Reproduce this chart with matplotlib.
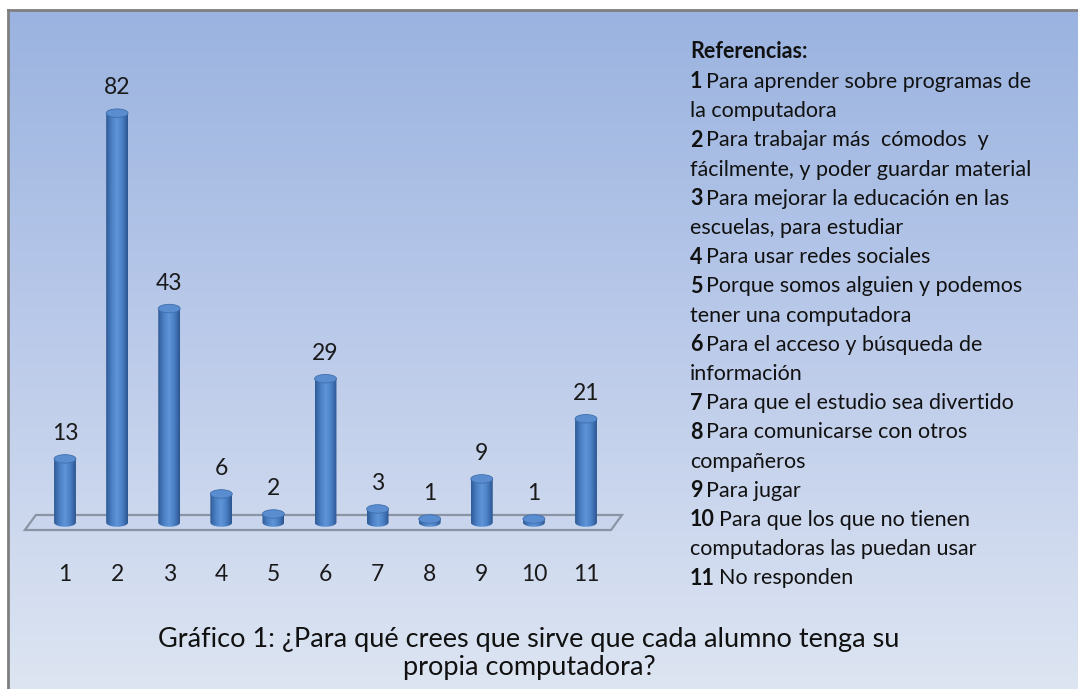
"""
Gráfico de barras cilíndricas: ¿Para qué sirve que cada alumno tenga su propia computadora?
"""

import matplotlib.pyplot as plt
import numpy as np
from matplotlib.colors import LinearSegmentedColormap
from matplotlib.patches import Ellipse, PathPatch, Polygon
from matplotlib.path import Path

plt.rcParams["font.family"] = ["Lato", "DejaVu Sans"]

# datos
categorias = ["1", "2", "3", "4", "5", "6", "7", "8", "9", "10", "11"]
valores = [13, 82, 43, 6, 2, 29, 3, 1, 9, 1, 21]

referencias = [
    ("1", "Para aprender sobre programas de"),
    ("", "la computadora"),
    ("2", "Para trabajar más  cómodos  y"),
    ("", "fácilmente, y poder guardar material"),
    ("3", "Para mejorar la educación en las"),
    ("", "escuelas, para estudiar"),
    ("4", "Para usar redes sociales"),
    ("5", "Porque somos alguien y podemos"),
    ("", "tener una computadora"),
    ("6", "Para el acceso y búsqueda de"),
    ("", "información"),
    ("7", "Para que el estudio sea divertido"),
    ("8", "Para comunicarse con otros"),
    ("", "compañeros"),
    ("9", "Para jugar"),
    ("10", "Para que los que no tienen"),
    ("", "computadoras las puedan usar"),
    ("11", "No responden"),
]

titulo = "Gráfico 1: ¿Para qué crees que sirve que cada alumno tenga su\npropia computadora?"

W, H = 1078, 689
fig = plt.figure(figsize=(W / 100, H / 100), dpi=100)
fig.patch.set_facecolor("white")

# fondo con degradado
bg = fig.add_axes([8 / W, 0, 1 - 8 / W, 1 - 10 / H])
grad = np.linspace(0, 1, 256).reshape(-1, 1)
cmap_bg = LinearSegmentedColormap.from_list("bg", ["#9ab3e0", "#bccbea", "#dde5f2"])
bg.imshow(grad, aspect="auto", cmap=cmap_bg, extent=[0, 1, 0, 1], origin="upper")
bg.set_xlim(0, 1)
bg.set_ylim(0, 1)
bg.set_xticks([])
bg.set_yticks([])
for s in ["right", "bottom"]:
    bg.spines[s].set_visible(False)
for s in ["left", "top"]:
    bg.spines[s].set_color("#7f7f7f")
    bg.spines[s].set_linewidth(2)

# ejes de las barras (en píxeles: x = 65 + 52.1*i, y0 = 524, 5.01 px/unidad)
px_u = 52.1
py_u = 5.01
xlo, xhi = -0.9, 10.9
ylo, yhi = -14, 100
left = (65 + xlo * px_u) / W
width = (xhi - xlo) * px_u / W
bottom = (H - 524 + ylo * py_u) / H
height = (yhi - ylo) * py_u / H
ax = fig.add_axes([left, bottom, width, height])
ax.set_xlim(xlo, xhi)
ax.set_ylim(ylo, yhi)
ax.axis("off")

# piso
piso = Polygon([(-0.77, -1.2), (-0.56, 1.8), (10.69, 1.8), (10.48, -1.2)],
               closed=True, facecolor="#c9d5ec", edgecolor="#8a94a4", lw=1.6, zorder=1)
ax.add_patch(piso)

cmap_bar = LinearSegmentedColormap.from_list(
    "bar", ["#2f5b95", "#4a7fc4", "#6096d8", "#4a7fc4", "#2c5590"])
bw = 0.42
eh = 1.7
x = np.arange(len(categorias))
for xi, v in zip(x, valores):
    x0, x1 = xi - bw / 2, xi + bw / 2
    # cuerpo: rectángulo + media elipse inferior
    t = np.linspace(np.pi, 2 * np.pi, 30)
    arco = np.column_stack([xi + bw / 2 * np.cos(t), 0.3 + eh / 2 * np.sin(t)])
    verts = np.vstack([[x0, v], [x0, 0.3], arco, [x1, v], [x0, v]])
    cuerpo = PathPatch(Path(verts, closed=True), facecolor="none", edgecolor="none", zorder=2)
    ax.add_patch(cuerpo)
    im = ax.imshow(np.linspace(0, 1, 64).reshape(1, -1), cmap=cmap_bar, aspect="auto",
                   extent=[x0, x1, 0.3 - eh / 2, v], zorder=2)
    im.set_clip_path(cuerpo)
    ax.add_patch(Ellipse((xi, v), bw, eh, facecolor="#5a8dd0",
                         edgecolor="#3f6eac", lw=0.6, zorder=3))
    ax.text(xi, v + 3.0, str(v), ha="center", va="bottom", fontsize=16.5, color="#1a1a1a")

for xi, c in zip(x, categorias):
    ax.text(xi, -10, c, ha="center", va="center", fontsize=16.5, color="#1a1a1a")

# referencias
fs = 15.5
fig.text(690 / W, 1 - 52 / H, "Referencias:", fontsize=fs, fontweight="bold",
         va="center", ha="left", color="#111111")
renderer = fig.canvas.get_renderer()
y = 82
for num, txt in referencias:
    if num:
        t1 = fig.text(690 / W, 1 - y / H, num, fontsize=fs, fontweight="bold",
                      va="center", ha="left", color="#111111")
        ancho = t1.get_window_extent(renderer).width
        fig.text((690 + ancho + 4) / W, 1 - y / H, txt, fontsize=fs,
                 va="center", ha="left", color="#111111")
    else:
        fig.text(690 / W, 1 - y / H, txt, fontsize=fs, va="center", ha="left",
                 color="#111111")
    y += 29.2

# título
fig.text(529 / W, 1 - 653 / H, titulo, fontsize=19.5, ha="center", va="center",
         linespacing=1.15, color="#111111")

fig.savefig("out.png", dpi=100, facecolor=fig.get_facecolor())
